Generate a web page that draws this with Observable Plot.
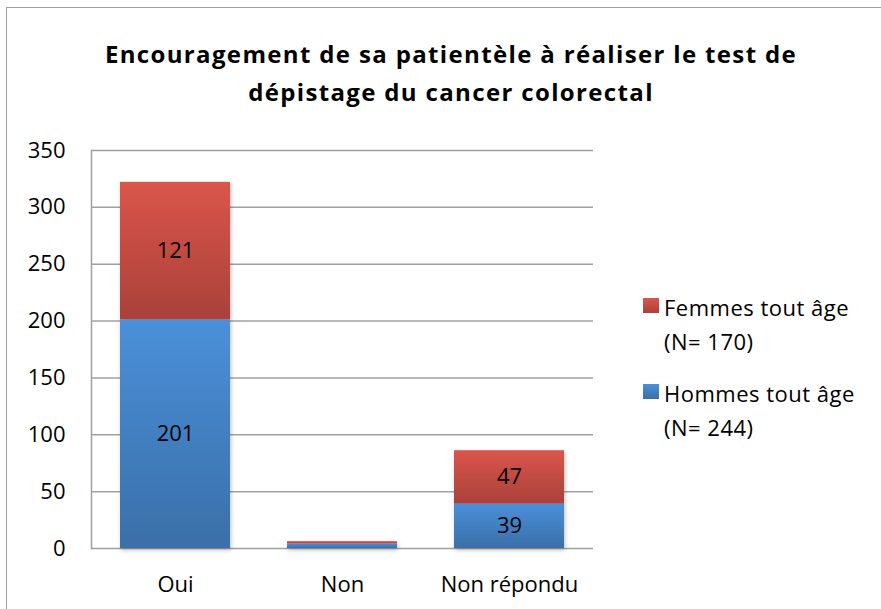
<!DOCTYPE html>
<html>
<head>
<meta charset="utf-8">
<script src="https://cdn.jsdelivr.net/npm/d3@7"></script>
<script src="https://cdn.jsdelivr.net/npm/@observablehq/plot@0.6"></script>
<style>
  body { margin: 0; background: #fff; }
  #wrap { position: relative; width: 881px; height: 609px; overflow: hidden; background: #fff; font-family: 'Open Sans', sans-serif; color: #000; }
  #border { position: absolute; left: 6px; top: 7px; width: 900px; height: 640px; border: 1.5px solid #a0a0a0; box-sizing: border-box; }
  #title { position: absolute; left: 10px; width: 882px; top: 35px; text-align: center; font-weight: bold; font-size: 24px; letter-spacing: 1.35px; line-height: 38px; }
  #chart { position: absolute; left: 0; top: 0; }
  .leg { position: absolute; left: 664px; font-size: 22px; letter-spacing: 0.5px; line-height: 34px; white-space: nowrap; }
  .sw { position: absolute; left: 643px; width: 16px; height: 15px; }
</style>
</head>
<body>
<div id="wrap">
  <div id="border"></div>
  <div id="chart"></div>
  <div id="title">Encouragement de sa patientèle à réaliser le test de<br>dépistage du cancer colorectal</div>
  <div class="sw" style="top:298px;background:linear-gradient(#db554b,#a9413a)"></div>
  <div class="leg" id="legF" style="top:290px"></div>
  <div class="sw" style="top:384px;background:linear-gradient(#4a90d9,#3a6fa8)"></div>
  <div class="leg" id="legH" style="top:376px"></div>
</div>
<script>
const categories = ["Oui", "Non", "Non répondu"];
const hommes = [201, 4, 39];
const femmes = [121, 2, 47];
const seriesKeys = ["Hommes", "Femmes"];
const seriesLabels = [["Hommes tout âge", "(N= 244)"], ["Femmes tout âge", "(N= 170)"]];
const yTicks = [0, 50, 100, 150, 200, 250, 300, 350];

const rows = categories.flatMap((c, i) => [
  {cat: c, serie: seriesKeys[0], value: hommes[i]},
  {cat: c, serie: seriesKeys[1], value: femmes[i]}
]);

document.getElementById("legH").innerHTML = seriesLabels[0].join("<br>");
document.getElementById("legF").innerHTML = seriesLabels[1].join("<br>");

const chart = Plot.plot({
  width: 881,
  height: 609,
  marginLeft: 91,
  marginRight: 288,
  marginTop: 150,
  marginBottom: 61,
  style: {fontFamily: "'Open Sans', sans-serif", fontSize: "22px", color: "#000", background: "transparent"},
  x: {domain: categories, paddingInner: 0.342, paddingOuter: 0.171, label: null, tickSize: 0, tickPadding: 28},
  y: {domain: [0, 350], ticks: yTicks, label: null, tickSize: 0, tickPadding: 26},
  color: {domain: seriesKeys, range: ["url(#gradBlue)", "url(#gradRed)"]},
  marks: [
    Plot.gridY(yTicks, {stroke: "#a0a0a0", strokeOpacity: 1, strokeWidth: 1.5}),
    Plot.frame({anchor: "left", stroke: "#a0a0a0", strokeWidth: 1.5}),
    Plot.barY(rows, {x: "cat", y: "value", fill: "serie"}),
    Plot.text(rows, Plot.stackY({x: "cat", y: "value", text: d => d.value >= 10 ? String(d.value) : "", fill: "#000", fontSize: 22}))
  ]
});

const svg = d3.select(chart);
const defs = svg.insert("defs", ":first-child");
function grad(id, top, bottom) {
  const g = defs.append("linearGradient").attr("id", id).attr("x1", 0).attr("y1", 0).attr("x2", 0).attr("y2", 1);
  g.append("stop").attr("offset", "0%").attr("stop-color", top);
  g.append("stop").attr("offset", "100%").attr("stop-color", bottom);
}
grad("gradRed", "#db554b", "#a9413a");
grad("gradBlue", "#4a90d9", "#3a6fa8");
const f = defs.append("filter").attr("id", "shadow").attr("x", "-10%").attr("y", "-10%").attr("width", "130%").attr("height", "130%");
f.append("feDropShadow").attr("dx", 1).attr("dy", 2).attr("stdDeviation", 2).attr("flood-color", "#000").attr("flood-opacity", 0.25);
svg.selectAll('g[aria-label="bar"]').attr("filter", "url(#shadow)");

document.getElementById("chart").appendChild(chart);
</script>
</body>
</html>
